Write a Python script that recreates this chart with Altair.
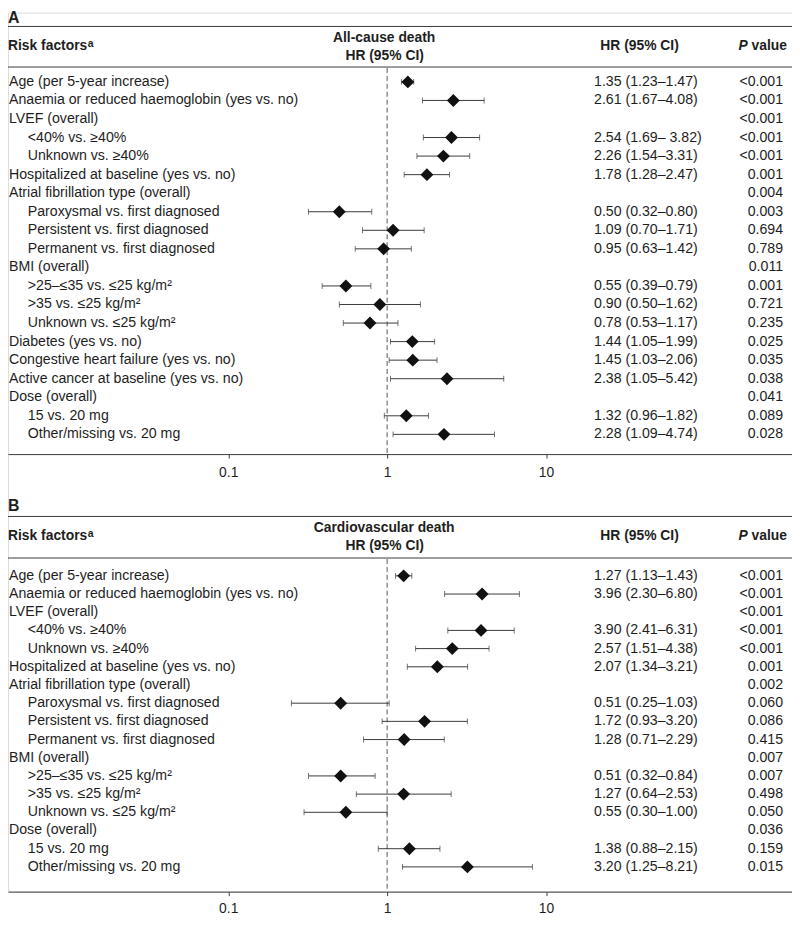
import altair as alt
import pandas as pd

# ---------------- data ----------------
A_LABELS = [
    "Age (per 5-year increase)",
    "Anaemia or reduced haemoglobin (yes vs. no)",
    "LVEF (overall)",
    "<40% vs. ≥40%",
    "Unknown vs. ≥40%",
    "Hospitalized at baseline (yes vs. no)",
    "Atrial fibrillation type (overall)",
    "Paroxysmal vs. first diagnosed",
    "Persistent vs. first diagnosed",
    "Permanent vs. first diagnosed",
    "BMI (overall)",
    ">25–≤35 vs. ≤25 kg/m²",
    ">35 vs. ≤25 kg/m²",
    "Unknown vs. ≤25 kg/m²",
    "Diabetes (yes vs. no)",
    "Congestive heart failure (yes vs. no)",
    "Active cancer at baseline (yes vs. no)",
    "Dose (overall)",
    "15 vs. 20 mg",
    "Other/missing vs. 20 mg",
]
A_SUB = [0, 0, 0, 1, 1, 0, 0, 1, 1, 1, 0, 1, 1, 1, 0, 0, 0, 0, 1, 1]
A_HR = [1.35, 2.61, None, 2.54, 2.26, 1.78, None, 0.50, 1.09, 0.95, None,
        0.55, 0.90, 0.78, 1.44, 1.45, 2.38, None, 1.32, 2.28]
A_LO = [1.23, 1.67, None, 1.69, 1.54, 1.28, None, 0.32, 0.70, 0.63, None,
        0.39, 0.50, 0.53, 1.05, 1.03, 1.05, None, 0.96, 1.09]
A_HI = [1.47, 4.08, None, 3.82, 3.31, 2.47, None, 0.80, 1.71, 1.42, None,
        0.79, 1.62, 1.17, 1.99, 2.06, 5.42, None, 1.82, 4.74]
A_HRTXT = ["1.35 (1.23–1.47)", "2.61 (1.67–4.08)", "", "2.54 (1.69– 3.82)",
           "2.26 (1.54–3.31)", "1.78 (1.28–2.47)", "", "0.50 (0.32–0.80)",
           "1.09 (0.70–1.71)", "0.95 (0.63–1.42)", "", "0.55 (0.39–0.79)",
           "0.90 (0.50–1.62)", "0.78 (0.53–1.17)", "1.44 (1.05–1.99)",
           "1.45 (1.03–2.06)", "2.38 (1.05–5.42)", "", "1.32 (0.96–1.82)",
           "2.28 (1.09–4.74)"]
A_P = ["<0.001", "<0.001", "<0.001", "<0.001", "<0.001", "0.001", "0.004",
       "0.003", "0.694", "0.789", "0.011", "0.001", "0.721", "0.235", "0.025",
       "0.035", "0.038", "0.041", "0.089", "0.028"]

B_LABELS = [
    "Age (per 5-year increase)",
    "Anaemia or reduced haemoglobin (yes vs. no)",
    "LVEF (overall)",
    "<40% vs. ≥40%",
    "Unknown vs. ≥40%",
    "Hospitalized at baseline (yes vs. no)",
    "Atrial fibrillation type (overall)",
    "Paroxysmal vs. first diagnosed",
    "Persistent vs. first diagnosed",
    "Permanent vs. first diagnosed",
    "BMI (overall)",
    ">25–≤35 vs. ≤25 kg/m²",
    ">35 vs. ≤25 kg/m²",
    "Unknown vs. ≤25 kg/m²",
    "Dose (overall)",
    "15 vs. 20 mg",
    "Other/missing vs. 20 mg",
]
B_SUB = [0, 0, 0, 1, 1, 0, 0, 1, 1, 1, 0, 1, 1, 1, 0, 1, 1]
B_HR = [1.27, 3.96, None, 3.90, 2.57, 2.07, None, 0.51, 1.72, 1.28, None,
        0.51, 1.27, 0.55, None, 1.38, 3.20]
B_LO = [1.13, 2.30, None, 2.41, 1.51, 1.34, None, 0.25, 0.93, 0.71, None,
        0.32, 0.64, 0.30, None, 0.88, 1.25]
B_HI = [1.43, 6.80, None, 6.31, 4.38, 3.21, None, 1.03, 3.20, 2.29, None,
        0.84, 2.53, 1.00, None, 2.15, 8.21]
B_HRTXT = ["1.27 (1.13–1.43)", "3.96 (2.30–6.80)", "", "3.90 (2.41–6.31)",
           "2.57 (1.51–4.38)", "2.07 (1.34–3.21)", "", "0.51 (0.25–1.03)",
           "1.72 (0.93–3.20)", "1.28 (0.71–2.29)", "", "0.51 (0.32–0.84)",
           "1.27 (0.64–2.53)", "0.55 (0.30–1.00)", "", "1.38 (0.88–2.15)",
           "3.20 (1.25–8.21)"]
B_P = ["<0.001", "<0.001", "<0.001", "<0.001", "<0.001", "0.001", "0.002",
       "0.060", "0.086", "0.415", "0.007", "0.007", "0.498", "0.050", "0.036",
       "0.159", "0.015"]

TICKS = [0.1, 1, 10]
REF_HR = 1

# ---------------- layout / style ----------------
FONT = "Liberation Sans, Arial, Helvetica, sans-serif"
TXT = "#1e1e1e"
LINE = "#3a3a3a"
FS = 14.3
HFS = 14
W = 792
H = 888            # plot height (panel B axis line)
X_ONE = 383.0      # pixel of HR = 1
DECADE = 160.5     # pixels per decade
x_dom = [10 ** (-X_ONE / DECADE), 10 ** ((W - X_ONE) / DECADE)]


def panel(letter, title, labels, sub, hr, lo, hi, hrtxt, pv, axis_y, lab_pad,
          row0, step, lay):
    n = len(labels)
    df = pd.DataFrame({"row": list(range(n)), "label": labels, "sub": sub,
                       "hrtxt": hrtxt, "p": pv})
    idx = [i for i in range(n) if hr[i] is not None]
    fd = pd.DataFrame({"row": idx, "hr": [hr[i] for i in idx],
                       "lo": [lo[i] for i in idx], "hi": [hi[i] for i in idx]})
    ydom = [(0 - row0) / step, (H - row0) / step]
    yscale = alt.Scale(domain=ydom, reverse=True, nice=False, zero=False)
    Y = alt.Y("row:Q", scale=yscale, axis=None)
    xscale = alt.Scale(type="log", domain=x_dom, nice=False)
    xaxis = alt.Axis(values=TICKS, format="~g", title=None, grid=False,
                     orient="bottom", offset=axis_y - H,
                     domainColor=LINE, domainWidth=1, tickColor=LINE, tickWidth=1,
                     tickSize=4, labelFont=FONT, labelFontSize=14, labelColor=TXT,
                     labelPadding=lab_pad, labelFlush=False)

    def X(f):
        return alt.X(f, scale=xscale, axis=xaxis)

    one = pd.DataFrame({"k": [0]})
    layers = []
    # reference line at HR = 1 (first so it carries the axis)
    layers.append(alt.Chart(pd.DataFrame({"ref": [REF_HR]})).mark_rule(
        color="#555", strokeWidth=1, strokeDash=[5, 3]
    ).encode(x=X("ref:Q"), y=alt.value(lay["l2"] + 1), y2=alt.value(axis_y)))
    # panel letter
    layers.append(alt.Chart(one).mark_text(
        text=letter, align="left", baseline="alphabetic", font=FONT,
        fontSize=16, fontWeight="bold", color=TXT
    ).encode(x=alt.value(0), y=alt.value(lay["letter"])))
    # horizontal table rules
    for yy in (lay["l1"], lay["l2"]):
        layers.append(alt.Chart(one).mark_rule(color=LINE, strokeWidth=1).encode(
            x=alt.value(0), x2=alt.value(W), y=alt.value(yy)))
    # header texts
    hb = dict(font=FONT, fontSize=HFS, fontWeight="bold", color=TXT, baseline="middle")
    layers.append(alt.Chart(one).mark_text(text="Risk factors", align="left", **hb)
                  .encode(x=alt.value(0), y=alt.value(lay["mid"])))
    layers.append(alt.Chart(one).mark_text(
        text="a", align="left", baseline="alphabetic", font=FONT, fontSize=10.5,
        fontWeight="bold", color=TXT
    ).encode(x=alt.value(80.5), y=alt.value(lay["mid"] + 0.5)))
    layers.append(alt.Chart(one).mark_text(text=title, align="center", **hb)
                  .encode(x=alt.value(380), y=alt.value(lay["t1"])))
    layers.append(alt.Chart(one).mark_text(text="HR (95% CI)", align="center", **hb)
                  .encode(x=alt.value(380.5), y=alt.value(lay["t2"])))
    layers.append(alt.Chart(one).mark_text(text="HR (95% CI)", align="center", **hb)
                  .encode(x=alt.value(638), y=alt.value(lay["mid"])))
    layers.append(alt.Chart(one).mark_text(text="P", align="left", fontStyle="italic", **hb)
                  .encode(x=alt.value(738), y=alt.value(lay["mid"])))
    layers.append(alt.Chart(one).mark_text(text="value", align="left", **hb)
                  .encode(x=alt.value(751.2), y=alt.value(lay["mid"])))
    # confidence intervals
    base = alt.Chart(fd)
    layers.append(base.mark_rule(color=LINE, strokeWidth=1).encode(
        x=X("lo:Q"), x2="hi:Q", y=Y))
    layers.append(base.transform_fold(["lo", "hi"], as_=["end", "v"]).mark_tick(
        orient="vertical", size=6, thickness=1, color=LINE
    ).encode(x=X("v:Q"), y=Y))
    layers.append(base.mark_point(shape="diamond", filled=True, size=170,
                                  color="#111", opacity=1).encode(x=X("hr:Q"), y=Y))
    # text columns
    tb = dict(font=FONT, fontSize=FS, color=TXT, baseline="middle")
    tbase = alt.Chart(df)
    layers.append(tbase.transform_filter("datum.sub == 0").mark_text(align="left", **tb)
                  .encode(x=alt.value(1), y=Y, text="label:N"))
    layers.append(tbase.transform_filter("datum.sub == 1").mark_text(align="left", **tb)
                  .encode(x=alt.value(20), y=Y, text="label:N"))
    layers.append(tbase.mark_text(align="left", **tb)
                  .encode(x=alt.value(592), y=Y, text="hrtxt:N"))
    layers.append(tbase.mark_text(align="right", **tb)
                  .encode(x=alt.value(783), y=Y, text="p:N"))
    return alt.layer(*layers)


# panel A: chart y = reference y - 8 ; panel B: chart y = reference y - 10
panelA = panel("A", "All-cause death", A_LABELS, A_SUB, A_HR, A_LO, A_HI,
               A_HRTXT, A_P, axis_y=446, lab_pad=8, row0=70, step=18.74,
               lay=dict(letter=11, l1=14, l2=55, mid=34, t1=25.3, t2=43.7))
panelB = panel("B", "Cardiovascular death", B_LABELS, B_SUB, B_HR, B_LO, B_HI,
               B_HRTXT, B_P, axis_y=H, lab_pad=6, row0=569, step=18.375,
               lay=dict(letter=503, l1=509, l2=551, mid=529, t1=520.3, t2=538.7))

chart = alt.layer(panelA, panelB).resolve_scale(
    x="independent", y="independent"
).properties(
    width=W, height=H,
    autosize=alt.AutoSizeParams(type="none"),
    padding={"left": 0, "top": 0, "right": 0, "bottom": 22},
).configure_view(stroke=None).configure(background="white")

chart.save("out.html", embed_options={"renderer": "svg", "actions": False})
